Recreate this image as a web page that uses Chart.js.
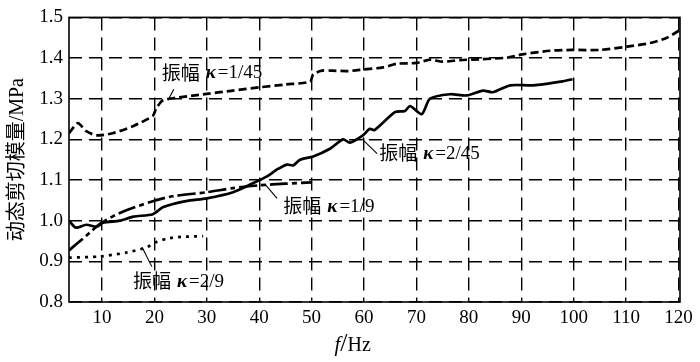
<!DOCTYPE html>
<html>
<head>
<meta charset="utf-8">
<script src="https://cdn.jsdelivr.net/npm/chart.js@4"></script>
<style>
  html, body { margin: 0; padding: 0; background: #fff; }
  canvas { display: block; }
</style>
</head>
<body>
<canvas id="chart" width="700" height="362"></canvas>
<script>
// frequency f (Hz) and dynamic shear modulus (MPa)
const freqK1_45 = [3.7, 5.4, 7, 9, 12, 16, 19.7, 20.3, 21.6, 24, 27, 30, 35, 40, 45, 49.7, 50.3, 52, 54, 57, 60, 63.6, 66.3, 70, 72.6, 75, 78.3, 82, 87.3, 90.2, 95.5, 99.7, 105, 110.2, 114.6, 117.8, 120.3];
const modK1_45 = [1.215, 1.24, 1.22, 1.21, 1.215, 1.233, 1.258, 1.275, 1.296, 1.302, 1.307, 1.312, 1.32, 1.328, 1.335, 1.342, 1.36, 1.369, 1.369, 1.368, 1.372, 1.377, 1.386, 1.388, 1.396, 1.391, 1.395, 1.397, 1.401, 1.409, 1.418, 1.42, 1.42, 1.428, 1.437, 1.45, 1.469];

const freqK2_45 = [3.7, 5, 7, 9, 10.2, 13.4, 16, 19.7, 21.6, 26, 30, 35, 38.8, 41.5, 43.4, 45.3, 46.5, 47.8, 50.3, 53.5, 56, 57.3, 59.8, 61.1, 62, 65.9, 67.8, 68.8, 71, 72.6, 76.4, 79.6, 82.7, 84.6, 87.9, 92.3, 98, 99.8];
const modK2_45 = [1.0, 0.983, 0.99, 0.985, 0.995, 1.0, 1.01, 1.016, 1.033, 1.048, 1.055, 1.07, 1.092, 1.109, 1.126, 1.138, 1.136, 1.15, 1.158, 1.177, 1.2, 1.192, 1.21, 1.226, 1.223, 1.267, 1.27, 1.282, 1.262, 1.3, 1.311, 1.308, 1.32, 1.316, 1.333, 1.333, 1.343, 1.348];

const freqK1_9 = [3.7, 7, 9.6, 13.4, 19.7, 23.5, 30, 35, 40, 45, 50];
const modK1_9 = [0.927, 0.963, 0.992, 1.019, 1.048, 1.06, 1.07, 1.08, 1.087, 1.091, 1.094];

const freqK2_9 = [3.7, 9.6, 14.8, 18.6, 20.5, 22.4, 25, 29.3];
const modK2_9 = [0.909, 0.912, 0.922, 0.935, 0.948, 0.956, 0.96, 0.962];

const xTicks = [10, 20, 30, 40, 50, 60, 70, 80, 90, 100, 110, 120];
const yTicks = [0.8, 0.9, 1.0, 1.1, 1.2, 1.3, 1.4, 1.5];

// curve labels: amplitude text, text anchor (f, MPa), leader line from/to (f, MPa)
const curveLabels = [
  { kappa: '1/45', at: [21.4, 1.365], from: [23.7, 1.323], to: [22.6, 1.296] },
  { kappa: '2/45', at: [62.9, 1.167], from: [62.5, 1.165], to: [59.6, 1.201] },
  { kappa: '1/9',  at: [44.6, 1.036], from: [43.4, 1.055], to: [41.1, 1.09] },
  { kappa: '2/9',  at: [15.9, 0.852], from: [19.5, 0.887], to: [17.8, 0.931] }
];

const SERIF = "'Liberation Serif', 'Noto Sans CJK SC', serif";

function points(xs, ys) {
  return xs.map((x, i) => ({ x: x, y: ys[i] }));
}

function lineSet(xs, ys, dash) {
  return {
    data: points(xs, ys),
    borderColor: '#000',
    borderWidth: 2.7,
    borderDash: dash,
    pointRadius: 0,
    tension: 0.25,
    fill: false
  };
}

const decorations = {
  id: 'decorations',
  afterDraw(chart) {
    const ctx = chart.ctx;
    const xs = chart.scales.x;
    const ys = chart.scales.y;
    const area = chart.chartArea;
    ctx.save();

    // plot frame
    ctx.strokeStyle = '#000';
    ctx.lineWidth = 1.6;
    ctx.setLineDash([]);
    ctx.strokeRect(area.left, area.top, area.right - area.left, area.bottom - area.top);

    // curve labels with leader lines
    ctx.fillStyle = '#000';
    ctx.textBaseline = 'middle';
    ctx.textAlign = 'left';
    curveLabels.forEach(lb => {
      ctx.lineWidth = 1.1;
      ctx.beginPath();
      ctx.moveTo(xs.getPixelForValue(lb.from[0]), ys.getPixelForValue(lb.from[1]));
      ctx.lineTo(xs.getPixelForValue(lb.to[0]), ys.getPixelForValue(lb.to[1]));
      ctx.stroke();

      let x = xs.getPixelForValue(lb.at[0]);
      const y = ys.getPixelForValue(lb.at[1]);
      ctx.font = "19px 'Noto Sans CJK SC'";
      ctx.fillText('振幅', x, y);
      x += ctx.measureText('振幅').width + 6;
      ctx.font = "bold italic 19px 'Liberation Serif'";
      ctx.fillText('κ', x, y + 1);
      x += ctx.measureText('κ').width + 2;
      ctx.font = "19px 'Liberation Serif'";
      ctx.fillText('=' + lb.kappa, x, y + 1);
    });

    // x axis title f/Hz
    const cy = 345;
    let tx = (area.left + area.right) / 2 - 40;
    ctx.font = "italic 21px 'Liberation Serif'";
    ctx.fillText('f', tx, cy);
    tx += ctx.measureText('f').width;
    ctx.font = "26px 'Liberation Serif'";
    ctx.fillText('/', tx, cy - 1);
    tx += ctx.measureText('/').width;
    ctx.font = "20px 'Liberation Serif'";
    ctx.fillText('Hz', tx, cy + 1);

    ctx.restore();
  }
};

new Chart(document.getElementById('chart'), {
  type: 'line',
  data: {
    datasets: [
      lineSet(freqK1_45, modK1_45, [8, 4]),
      lineSet(freqK2_45, modK2_45, []),
      lineSet(freqK1_9, modK1_9, [18, 4, 5, 4]),
      lineSet(freqK2_9, modK2_9, [3, 5])
    ]
  },
  options: {
    responsive: false,
    animation: false,
    devicePixelRatio: 1,
    layout: { padding: { top: 14, right: 20, left: 0, bottom: 0 } },
    plugins: {
      legend: { display: false },
      tooltip: { enabled: false }
    },
    scales: {
      x: {
        type: 'linear',
        min: 3.7,
        max: 120.3,
        afterBuildTicks: s => { s.ticks = xTicks.map(v => ({ value: v })); },
        afterFit: s => { s.height = 60; },
        ticks: {
          color: '#000',
          font: { family: SERIF, size: 19 },
          padding: 5,
          maxRotation: 0,
          autoSkip: false
        },
        grid: { color: '#000', lineWidth: 1.4, drawTicks: false },
        border: { display: false, dash: [13, 7] }
      },
      y: {
        min: 0.8,
        max: 1.5,
        afterBuildTicks: s => { s.ticks = yTicks.map(v => ({ value: v })); },
        afterFit: s => { s.width = 69; },
        ticks: {
          color: '#000',
          font: { family: SERIF, size: 19 },
          padding: 6,
          callback: v => v.toFixed(1)
        },
        grid: { color: '#000', lineWidth: 1.4, drawTicks: false },
        border: { display: false, dash: [13, 7] },
        title: {
          display: true,
          text: '动态剪切模量/MPa',
          color: '#000',
          font: { family: SERIF, size: 20 },
          padding: { top: 6, bottom: 0 }
        }
      }
    }
  },
  plugins: [decorations]
});
</script>
</body>
</html>
